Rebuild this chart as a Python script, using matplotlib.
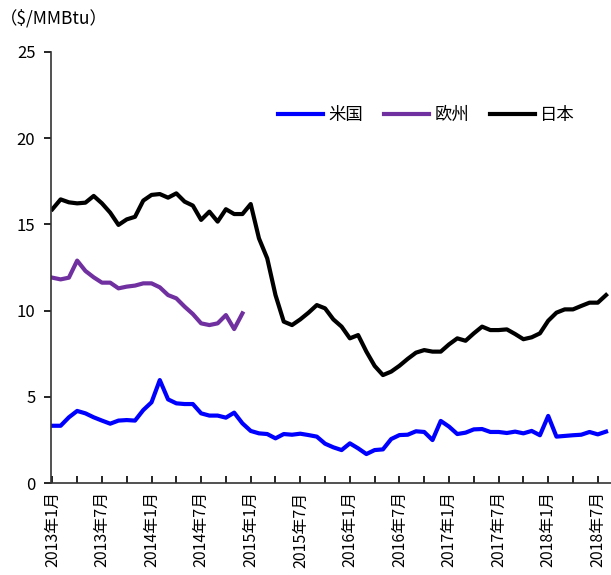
import numpy as np
import matplotlib
matplotlib.use("Agg")
import matplotlib.pyplot as plt

plt.rcParams["font.family"] = ["Noto Sans CJK JP", "DejaVu Sans"]

# ── データ（2013年1月〜2018年8月, 月次, $/MMBtu） ───────────────────────
months = np.arange(68)
tick_labels = ["2013年1月", "2013年7月", "2014年1月", "2014年7月", "2015年1月",
               "2015年7月", "2016年1月", "2016年7月", "2017年1月", "2017年7月",
               "2018年1月", "2018年7月"]

us = [3.32, 3.32, 3.81, 4.18, 4.04, 3.81, 3.62, 3.44, 3.62, 3.65, 3.62, 4.23,
      4.68, 5.97, 4.85, 4.62, 4.58, 4.58, 4.04, 3.91, 3.91, 3.79, 4.08, 3.46,
      3.02, 2.88, 2.84, 2.59, 2.84, 2.80, 2.86, 2.78, 2.69, 2.28, 2.07, 1.91,
      2.30, 2.01, 1.68, 1.91, 1.95, 2.55, 2.78, 2.80, 3.00, 2.96, 2.49, 3.60,
      3.27, 2.84, 2.92, 3.11, 3.13, 2.96, 2.96, 2.90, 2.98, 2.88, 3.02, 2.77,
      3.89, 2.69, 2.73, 2.77, 2.80, 2.96, 2.82, 2.98]

europe = [11.91, 11.81, 11.91, 12.90, 12.30, 11.93, 11.62, 11.62, 11.29, 11.39,
          11.45, 11.58, 11.58, 11.35, 10.90, 10.71, 10.23, 9.80, 9.26, 9.16,
          9.26, 9.74, 8.93, 9.84]

japan = [15.88, 16.45, 16.28, 16.22, 16.26, 16.65, 16.22, 15.68, 14.97, 15.29,
         15.44, 16.38, 16.71, 16.76, 16.55, 16.80, 16.32, 16.09, 15.26, 15.74,
         15.16, 15.88, 15.60, 15.60, 16.18, 14.19, 13.03, 10.90, 9.36, 9.16,
         9.49, 9.88, 10.32, 10.13, 9.49, 9.07, 8.39, 8.58, 7.62, 6.79,
         6.26, 6.46, 6.80, 7.20, 7.56, 7.71, 7.62, 7.62, 8.04, 8.39,
         8.25, 8.68, 9.07, 8.87, 8.87, 8.91, 8.64, 8.34, 8.45, 8.68,
         9.41, 9.88, 10.07, 10.07, 10.27, 10.46, 10.46, 10.90]

# ── 図 ─────────────────────────────────────────────────────────────────
fig = plt.figure(figsize=(6.11, 5.75), dpi=100)
ax = fig.add_axes([0.083, 0.16, 0.917, 0.7496])

ax.plot(months, us, color="#0000FF", lw=3, label="米国")
ax.plot(months[:len(europe)], europe, color="#7030A0", lw=3, label="欧州")
ax.plot(months, japan, color="black", lw=3, label="日本")

ax.set_ylim(0, 25)
ax.set_yticks(np.arange(0, 26, 5))
ax.set_xlim(-0.2, 67.6)
ax.set_xticks(np.arange(0, 68, 3), minor=True)
ax.set_xticks(np.arange(0, 68, 6))
ax.set_xticklabels(tick_labels, rotation=90, fontsize=11.5)

for s in ("top", "right"):
    ax.spines[s].set_visible(False)
for s in ("left", "bottom"):
    ax.spines[s].set_linewidth(1.2)
    ax.spines[s].set_color("#333333")

ax.tick_params(axis="y", direction="out", length=5, labelsize=12, width=1.2, pad=6)
ax.tick_params(axis="x", which="both", direction="in", length=5, width=1.2, pad=6)

fig.text(0.0, 0.968, "（$/MMBtu）", fontsize=12.5, ha="left", va="center")

fig.legend(loc="center", bbox_to_anchor=(0.698, 0.80), ncol=3, frameon=False,
           fontsize=12.5, handlelength=2.6, handletextpad=0.3, columnspacing=1.2)

fig.savefig("out.png", dpi=100)
